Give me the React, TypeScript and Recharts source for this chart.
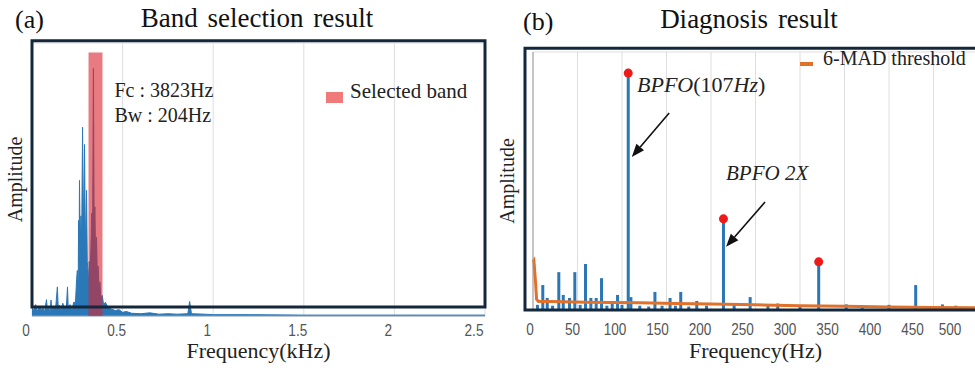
import {
  ComposedChart,
  Area,
  Bar,
  Line,
  Scatter,
  XAxis,
  YAxis,
  CartesianGrid,
  ReferenceArea,
  ReferenceDot,
  ReferenceLine,
  Legend,
} from "recharts"

const serif = "'Liberation Serif', 'Times New Roman', serif"
const sans = "'Liberation Sans', Arial, sans-serif"

// (a) band selection spectrum, kHz
const leftFreq = [
  0, 0.01, 0.02, 0.03, 0.04, 0.05, 0.06, 0.07, 0.08, 0.085, 0.09, 0.1, 0.105, 0.11, 0.12, 0.13,
  0.14, 0.145, 0.15, 0.16, 0.17, 0.18, 0.19, 0.196, 0.2, 0.21, 0.22, 0.23, 0.24, 0.246, 0.25,
  0.255, 0.257, 0.26, 0.262, 0.266, 0.27, 0.274, 0.279, 0.283, 0.29, 0.294, 0.301, 0.305, 0.309,
  0.312, 0.316, 0.32, 0.326, 0.33, 0.334, 0.339, 0.343, 0.347, 0.351, 0.356, 0.36, 0.365, 0.37,
  0.375, 0.38, 0.388, 0.395, 0.405, 0.42, 0.44, 0.46, 0.48, 0.5, 0.52, 0.55, 0.6, 0.65, 0.7, 0.75,
  0.8, 0.86, 0.87, 0.88, 0.95, 1.0, 1.2, 1.5, 1.8, 2.1, 2.5,
]
const leftAmp = [
  0.2, 0.12, 0.25, 0.1, 0.22, 0.14, 0.18, 0.1, 0.36, 0.12, 0.2, 0.1, 0.35, 0.12, 0.22, 0.15,
  0.64, 0.15, 0.24, 0.12, 0.28, 0.15, 0.22, 0.64, 0.15, 0.25, 0.12, 0.3, 0.3, 0.8, 1.0,
  0.7, 2.1, 1.2, 2.98, 1.5, 2.2, 1.6, 4.15, 1.8, 3.77, 1.5, 2.76, 1.2, 1.0,
  0.7, 1.2, 0.9, 1.6, 2.26, 1.4, 5.44, 1.8, 2.4, 1.3, 1.73, 1.0, 1.1, 0.6,
  0.75, 0.4, 0.45, 0.25, 0.3, 0.18, 0.15, 0.12, 0.14, 0.08, 0.1, 0.06, 0.05, 0.07, 0.04, 0.05,
  0.04, 0.05, 0.32, 0.05, 0.04, 0.03, 0.03, 0.02, 0.02, 0.02, 0.02,
]
const leftTicks = [0, 0.5, 1, 1.5, 2, 2.5]
const bandLow = 0.312
const bandHigh = 0.389
const bandTop = 5.79

// (b) envelope spectrum, Hz
const spikeFreq = [
  5, 11, 16, 22, 29, 34, 41, 47, 53, 59, 65, 71, 77, 83, 89, 95, 100, 107, 110, 120, 130, 137,
  145, 154, 160, 166, 175, 184, 195, 214, 226, 244, 264, 275, 300, 321, 352, 370, 400, 430, 460, 475,
]
const spikeAmp = [
  0.12, 0.58, 0.28, 0.1, 0.88, 0.35, 0.28, 0.88, 0.12, 1.07, 0.28, 0.28, 0.74, 0.1, 0.19, 0.35,
  0.12, 5.51, 0.3, 0.1, 0.08, 0.42, 0.1, 0.28, 0.1, 0.42, 0.08, 0.21, 0.1, 2.12, 0.16, 0.3, 0.12,
  0.15, 0.1, 1.12, 0.13, 0.1, 0.12, 0.58, 0.13, 0.1,
]
const threshFreq = [0, 1, 3, 4, 6, 20, 60, 120, 160, 200, 250, 300, 350, 400, 450, 500]
const threshAmp = [1.12, 1.15, 0.6, 0.25, 0.2, 0.2, 0.18, 0.17, 0.15, 0.14, 0.12, 0.1, 0.09, 0.07, 0.06, 0.05]
const peakFreq = [107, 214, 321]
const peakAmp = [5.51, 2.12, 1.12]
const rightTicks = [0, 50, 100, 150, 200, 250, 300, 350, 400, 450, 500]
const yTicks = [0, 1, 2, 3, 4, 5, 6]

const leftData = leftFreq.map((f, i) => ({ f, amp: leftAmp[i] }))
const spikes = spikeFreq.map((f, i) => ({ f, amp: spikeAmp[i] }))
const thresh = threshFreq.map((f, i) => ({ f, t: threshAmp[i] }))
const peaks = peakFreq.map((f, i) => ({ f, amp: peakAmp[i] }))

const frame = "#15283b"

// narrow grey tick labels, nudged left like the original export
function narrowTick(shift: (i: number) => number) {
  return (p: any) => (
    <text
      transform={`translate(${p.x + shift(p.index)},${p.y}) scale(0.8,1)`}
      textAnchor="middle"
      dy="0.71em"
      fontFamily={sans}
      fontSize={17}
      fill="#555"
    >
      {p.payload.value}
    </text>
  )
}

function Stem(p: any) {
  if (!p.height) return null
  return <rect x={p.x + p.width / 2 - 1.5} y={p.y} width={3} height={p.height} fill="#2b77b6" />
}

function Arrow(props: any) {
  const { x1, y1, x2, y2 } = props
  const dx = x2 - x1
  const dy = y2 - y1
  const len = Math.sqrt(dx * dx + dy * dy)
  const ux = dx / len
  const uy = dy / len
  const hl = 13
  const hw = 5
  const bx = x2 - ux * hl
  const by = y2 - uy * hl
  return (
    <g>
      <line x1={x1} y1={y1} x2={bx} y2={by} stroke="#111" strokeWidth={1.6} />
      <polygon
        points={`${x2},${y2} ${bx - uy * hw},${by + ux * hw} ${bx + uy * hw},${by - ux * hw}`}
        fill="#111"
      />
    </g>
  )
}

function textShape(lines: React.ReactNode, size: number, italic = false) {
  return (p: any) => (
    <text
      x={p.cx}
      y={p.cy}
      fontFamily={serif}
      fontSize={size}
      fontStyle={italic ? "italic" : "normal"}
      fill="#222"
    >
      {lines}
    </text>
  )
}

function LeftChart() {
  return (
    <ComposedChart
      width={490}
      height={372}
      data={leftData}
      margin={{ top: 43, right: 5, bottom: 6, left: 0 }}
    >
      <CartesianGrid stroke="#dedede" />
      <XAxis
        dataKey="f"
        type="number"
        domain={[0, 2.5]}
        ticks={leftTicks}
        height={50}
        tickSize={0}
        tickMargin={8}
        stroke="#8fa2b5"
        tick={narrowTick(() => -6)}
        label={{
          value: "Frequency(kHz)",
          position: "insideBottom",
          offset: 8,
          style: { fontFamily: serif, fontSize: 22, fill: "#222" },
        }}
      />
      <YAxis
        type="number"
        domain={[0, 6]}
        ticks={yTicks}
        width={32}
        tick={false}
        axisLine={false}
        label={{
          value: "Amplitude",
          angle: -90,
          position: "insideLeft",
          offset: 15,
          style: { textAnchor: "middle", fontFamily: serif, fontSize: 20, fill: "#222" },
        }}
      />
      <Area
        type="linear"
        dataKey="amp"
        stroke="#2a78b8"
        strokeWidth={1}
        fill="#2a78b8"
        fillOpacity={1}
        isAnimationActive={false}
      />
      <ReferenceArea
        x1={bandLow}
        x2={bandHigh}
        y1={0}
        y2={bandTop}
        fill="#d9232d"
        fillOpacity={0.6}
        stroke="none"
        zIndex={900}
      />
      <ReferenceArea
        x1={0}
        x2={2.5}
        y1={0.2}
        y2={6.05}
        fill="none"
        fillOpacity={0}
        stroke={frame}
        strokeWidth={3}
        ifOverflow="visible"
        zIndex={950}
      />
      <ReferenceDot x={0.455} y={4.81} r={0} shape={textShape("Fc : 3823Hz", 20)} />
      <ReferenceDot x={0.455} y={4.26} r={0} shape={textShape("Bw : 204Hz", 20)} />
      <Legend
        layout="horizontal"
        verticalAlign="middle"
        align="center"
        wrapperStyle={{ left: 326, top: 80, width: 150, height: 30 }}
        content={() => (
          <svg width={150} height={30}>
            <rect x={0} y={12} width={17} height={11} fill="#f07a7a" />
            <text x={24} y={18} fontFamily={serif} fontSize={21} fill="#222">
              Selected band
            </text>
          </svg>
        )}
      />
    </ComposedChart>
  )
}

function RightChart() {
  return (
    <ComposedChart
      width={500}
      height={372}
      data={spikes}
      margin={{ top: 52, right: 7, bottom: 6, left: 0 }}
    >
      <CartesianGrid stroke="#dedede" />
      <XAxis
        dataKey="f"
        type="number"
        domain={[0, 500]}
        ticks={rightTicks}
        height={56}
        tickSize={0}
        tickMargin={13}
        axisLine={false}
        tick={narrowTick((i) => -3 - i * 2)}
        label={{
          value: "Frequency(Hz)",
          position: "insideBottom",
          offset: 8,
          style: { fontFamily: serif, fontSize: 22, fill: "#222" },
        }}
      />
      <YAxis
        type="number"
        domain={[0, 6]}
        ticks={yTicks}
        width={48}
        tick={false}
        stroke="#999"
        label={{
          value: "Amplitude",
          angle: -90,
          position: "insideLeft",
          offset: 22,
          style: { textAnchor: "middle", fontFamily: serif, fontSize: 20, fill: "#222" },
        }}
      />
      <Bar dataKey="amp" fill="#2b77b6" shape={Stem} isAnimationActive={false} />
      <Line
        data={thresh}
        dataKey="t"
        type="linear"
        stroke="#e0702a"
        strokeWidth={3}
        dot={false}
        isAnimationActive={false}
      />
      <Scatter data={peaks} dataKey="amp" fill="#ee1a1a" isAnimationActive={false} />
      <ReferenceArea
        x1={-9}
        x2={520}
        y1={0}
        y2={6.09}
        fill="none"
        fillOpacity={0}
        stroke={frame}
        strokeWidth={3}
        ifOverflow="visible"
        zIndex={950}
      />
      <ReferenceLine
        segment={[
          { x: 153, y: 4.58 },
          { x: 111, y: 3.56 },
        ]}
        ifOverflow="visible"
        shape={Arrow}
      />
      <ReferenceLine
        segment={[
          { x: 260.7, y: 2.51 },
          { x: 216.9, y: 1.47 },
        ]}
        ifOverflow="visible"
        shape={Arrow}
      />
      <ReferenceDot
        x={116.9}
        y={5.07}
        r={0}
        shape={textShape(
          <>
            BPFO<tspan fontStyle="normal">(107</tspan>Hz<tspan fontStyle="normal">)</tspan>
          </>,
          22,
          true,
        )}
      />
      <ReferenceDot x={216.9} y={3.02} r={0} shape={textShape("BPFO 2X", 21, true)} />
      <Legend
        layout="horizontal"
        verticalAlign="middle"
        align="center"
        wrapperStyle={{ left: 315, top: 48, width: 170, height: 26 }}
        content={() => (
          <svg width={170} height={26}>
            <rect x={0} y={14} width={13} height={4} fill="#e0702a" />
            <text x={23} y={17} fontFamily={serif} fontSize={20} fill="#222">
              6-MAD threshold
            </text>
          </svg>
        )}
      />
    </ComposedChart>
  )
}

export default function App() {
  return (
    <div
      style={{
        position: "absolute",
        left: 0,
        top: 0,
        width: 975,
        height: 372,
        background: "#fff",
        overflow: "hidden",
      }}
    >
      <div style={{ position: "absolute", left: 0, top: 0 }}>
        <LeftChart />
      </div>
      <div style={{ position: "absolute", left: 485, top: 0 }}>
        <RightChart />
      </div>
      <svg
        width={975}
        height={372}
        style={{ position: "absolute", left: 0, top: 0, pointerEvents: "none" }}
      >
        <g fontFamily={serif} fill="#111">
          <text x={15} y={28} fontSize={26}>(a)</text>
          <text x={257} y={27} fontSize={27} textAnchor="middle" wordSpacing={3}>
            Band selection result
          </text>
          <text x={523} y={30} fontSize={26}>(b)</text>
          <text x={749} y={28} fontSize={27} textAnchor="middle" wordSpacing={3}>
            Diagnosis result
          </text>
        </g>
      </svg>
    </div>
  )
}
